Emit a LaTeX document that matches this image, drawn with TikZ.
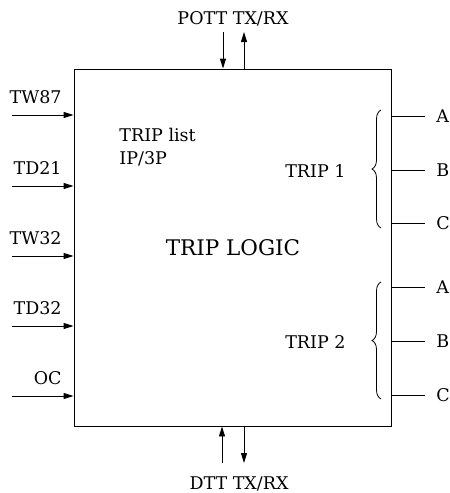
\documentclass[tikz,border=0pt]{standalone}
\usepackage{fontspec}
\setmainfont{DejaVu Serif}
\usetikzlibrary{arrows.meta,decorations.pathreplacing}
\begin{document}
\begin{tikzpicture}[x=1pt,y=-1pt,line width=0.9pt,
  lbl/.style={font=\fontsize{17.5}{23}\selectfont, inner sep=0pt},
  arr/.style={-{Triangle[length=10pt,width=6pt]}},
  brc/.style={decorate,decoration={brace,amplitude=9pt,aspect=0.5}}]
\useasboundingbox (0,0) rectangle (450,493);
\node[draw, minimum width=317pt, minimum height=357pt, inner sep=0pt, line width=0.9pt] (box) at (232.5,247.5) {};
% labels
\node[lbl, anchor=base] (pott) at (233,24) {POTT TX/RX};
\node[lbl, anchor=base] (dtt) at (239,489) {DTT TX/RX};
\node[font=\fontsize{21.5}{26}\selectfont, inner sep=0pt, anchor=base] (logic) at (233,255) {TRIP LOGIC};
\node[lbl, anchor=base west] (list) at (119,141) {TRIP list};
\node[lbl, anchor=base west] (ipp) at (119,164) {IP/3P};
\node[lbl, anchor=base east] (t1) at (346,177) {TRIP 1};
\node[lbl, anchor=base east] (t2) at (346,348) {TRIP 2};
% top arrows
\coordinate (ptin) at (223,32);
\coordinate (ptout) at (244,32);
\draw[arr] (ptin) -- (ptin |- box.north);
\draw[arr] (ptout |- box.north) -- (ptout);
% bottom arrows
\coordinate (dtin) at (222,463);
\coordinate (dtout) at (244,463);
\draw[arr] (dtin) -- (dtin |- box.south);
\draw[arr] (dtout |- box.south) -- (dtout);
% left inputs
\foreach \n/\y in {TW87/115, TD21/186, TW32/256, TD32/326, OC/396}{
  \coordinate (in\n) at (12,\y);
  \draw[arr] (in\n) -- (in\n -| box.west);
  \node[lbl, anchor=base east] (l\n) at (62,\y-11.5) {\n};
}
% right outputs
\foreach \g/\a/\b/\c in {1/116/170/223, 2/287/341/395}{
  \foreach \p/\y in {A/\a, B/\b, C/\c}{
    \coordinate (o\g\p) at (425,\y);
    \draw (o\g\p -| box.east) -- (o\g\p);
    \node[lbl, anchor=west] (n\g\p) at (436,\y) {\p};
  }
}
\coordinate (b1s) at (381,228);
\coordinate (b1e) at (381,110);
\coordinate (b2s) at (381,399);
\coordinate (b2e) at (381,282);
\draw[brc, line width=0.8pt] (b1s) -- (b1e);
\draw[brc, line width=0.8pt] (b2s) -- (b2e);
\end{tikzpicture}
\end{document}
